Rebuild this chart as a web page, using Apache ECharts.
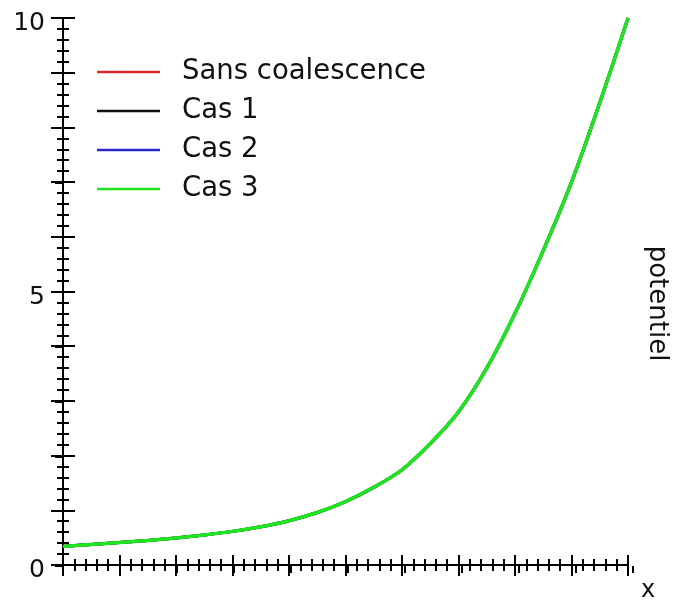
<!DOCTYPE html>
<html>
<head>
<meta charset="utf-8">
<script src="https://cdn.jsdelivr.net/npm/echarts@6/dist/echarts.min.js"></script>
<style>html,body{margin:0;padding:0;background:#fff}#c{width:678px;height:603px}</style>
</head>
<body>
<div id="c"></div>
<script>
var xValues = [0,0.5,1,1.5,2,2.5,3,3.5,4,4.5,5,5.5,6,6.5,7,7.5,8,8.5,9,9.5,10];
var sansCoalescence = [0.34,0.375,0.41,0.45,0.495,0.55,0.615,0.70,0.81,0.96,1.16,1.42,1.74,2.22,2.80,3.60,4.60,5.75,7.00,8.45,10.0];
var cas1 = [0.34,0.375,0.41,0.45,0.495,0.55,0.615,0.70,0.81,0.96,1.16,1.42,1.74,2.22,2.80,3.60,4.60,5.75,7.00,8.45,10.0];
var cas2 = [0.34,0.375,0.41,0.45,0.495,0.55,0.615,0.70,0.81,0.96,1.16,1.42,1.74,2.22,2.80,3.60,4.60,5.75,7.00,8.45,10.0];
var cas3 = [0.34,0.375,0.41,0.45,0.495,0.55,0.615,0.70,0.81,0.96,1.16,1.42,1.74,2.22,2.80,3.60,4.60,5.75,7.00,8.45,10.0];
var seriesNames = ['Sans coalescence','Cas 1','Cas 2','Cas 3'];
var seriesColors = ['#d42a2a','#111111','#2a2ad0','#1ee61e'];
var yTickLabels = [0,5,10];

function pairs(ys){ return xValues.map(function(x,i){ return [x, ys[i]]; }); }
var allData = [sansCoalescence, cas1, cas2, cas3];

var font = 'DejaVu Sans';
var chart = echarts.init(document.getElementById('c'));
var lineCol = '#000';
var gridRect = {left:63, right:45, top:18, bottom:37};
function ax(extra){ return Object.assign({type:'value', min:0, max:10, interval:1, splitLine:{show:false}, axisLabel:{show:false}}, extra); }
var tickStyle = {color:lineCol, width:2};

chart.setOption({
  animation:false,
  backgroundColor:'#fff',
  grid:[Object.assign({}, gridRect), Object.assign({}, gridRect)],
  legend:{
    orient:'vertical', left:97, top:57, padding:0,
    itemWidth:63, itemHeight:14, itemGap:9,
    data:seriesNames.map(function(n,i){return {name:n, icon:'path://M0,6 L63,6 L63,8.5 L0,8.5 Z', itemStyle:{color:seriesColors[i]}};}),
    textStyle:{fontFamily:font, fontSize:27.5, color:'#111', lineHeight:30, padding:[0,0,0,17]}
  },
  xAxis:[
    ax({gridIndex:0, position:'bottom', name:'x', nameLocation:'end', nameGap:13,
      nameTextStyle:{fontFamily:font, fontSize:24, color:'#111', align:'left', verticalAlign:'top', padding:[14,0,0,0]},
      axisLine:{show:true, lineStyle:{color:lineCol, width:2}},
      axisTick:{show:true, inside:true, length:10, lineStyle:tickStyle},
      minorTick:{show:true, splitNumber:5, length:6, lineStyle:tickStyle}}),
    ax({gridIndex:0, position:'top',
      axisLine:{show:true, lineStyle:{color:lineCol, width:2}},
      axisTick:{show:true, inside:true, length:11, lineStyle:tickStyle},
      minorTick:{show:true, splitNumber:5, length:6, lineStyle:tickStyle}}),
    ax({gridIndex:1, position:'bottom',
      axisLine:{show:false},
      axisTick:{show:true, inside:false, length:7, lineStyle:tickStyle},
      minorTick:{show:false}})
  ],
  yAxis:[
    ax({gridIndex:0, position:'left',
      axisLine:{show:true, lineStyle:{color:lineCol, width:2}},
      axisTick:{show:true, inside:true, length:12, lineStyle:tickStyle},
      minorTick:{show:true, splitNumber:5, length:6, lineStyle:tickStyle},
      axisLabel:{show:true, margin:18, fontFamily:font, fontSize:25, color:'#111',
        rich:{v:{fontFamily:font, fontSize:25, color:'#111', padding:[11,0,0,0]}},
        formatter:function(v){ return yTickLabels.indexOf(v) >= 0 ? '{v|' + v + '}' : ''; }}}),
    ax({gridIndex:0, position:'right',
      name:'potentiel', nameLocation:'middle', nameRotate:-90, nameGap:16,
      nameTextStyle:{fontFamily:font, fontSize:26, color:'#111', padding:[0,0,0,24]},
      axisLine:{show:true, lineStyle:{color:lineCol, width:2}},
      axisTick:{show:true, inside:true, length:12, lineStyle:tickStyle},
      minorTick:{show:true, splitNumber:5, length:6, lineStyle:tickStyle}}),
    ax({gridIndex:1, position:'left',
      axisLine:{show:false},
      axisTick:{show:true, inside:false, length:8, lineStyle:tickStyle},
      minorTick:{show:false}})
  ],
  series: seriesNames.map(function(n,i){
    return {name:n, type:'line', xAxisIndex:0, yAxisIndex:0, data:pairs(allData[i]),
      smooth:0.3, symbol:'none', color:seriesColors[i],
      lineStyle:{color:seriesColors[i], width: i === 3 ? 3.5 : 3}, z:2+i};
  })
});
</script>
</body>
</html>
